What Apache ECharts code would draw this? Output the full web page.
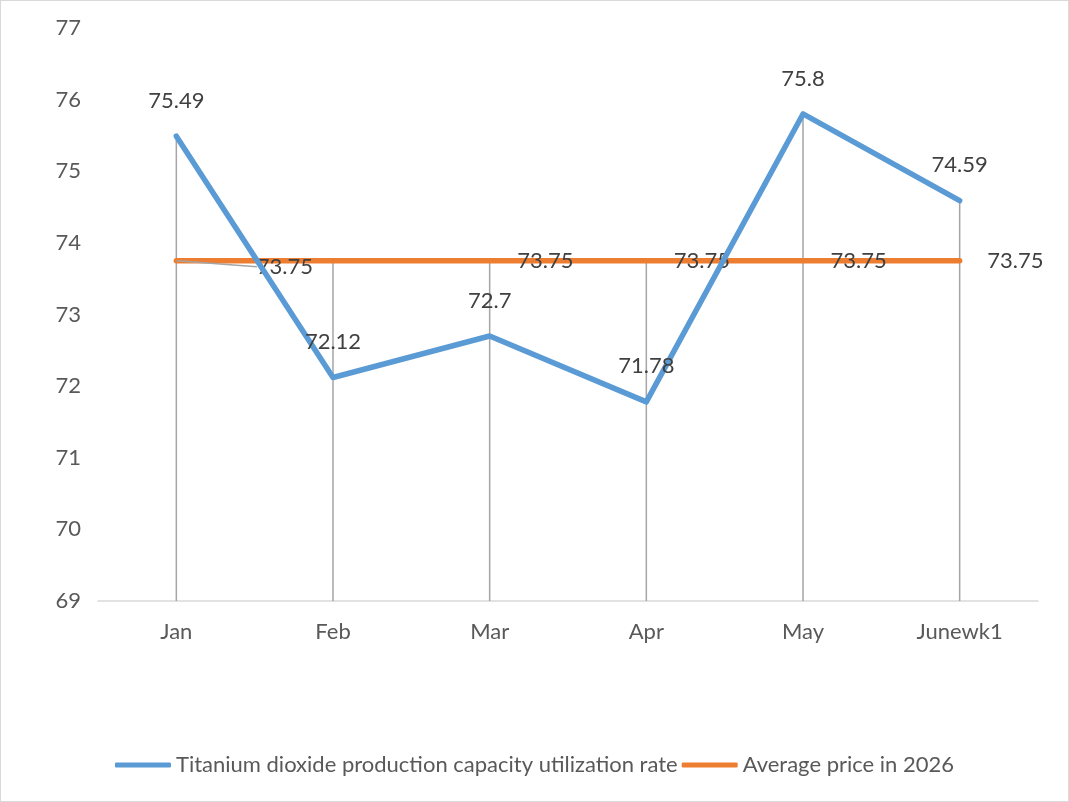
<!DOCTYPE html>
<html>
<head>
<meta charset="utf-8">
<script src="https://cdn.jsdelivr.net/npm/echarts@6/dist/echarts.min.js"></script>
<style>
html, body { margin: 0; padding: 0; background: #fff; }
#chart { width: 1067px; height: 800px; border: 1px solid #d9d9d9; }
</style>
</head>
<body>
<div id="chart"></div>
<script>
// 数据
var months = ['Jan', 'Feb', 'Mar', 'Apr', 'May', 'Junewk1'];
var utilRate = [75.49, 72.12, 72.7, 71.78, 75.8, 74.59];
var avgPrice = [73.75, 73.75, 73.75, 73.75, 73.75, 73.75];
var yTicks = [69, 70, 71, 72, 73, 74, 75, 76, 77];

var textColor = '#595959';
var fontName = 'Lato, "Liberation Sans", sans-serif';

// 垂线顶端 = 两条线在每个月的较大值
var dropTop = utilRate.map(function (v, i) { return Math.max(v, avgPrice[i]); });

var myChart = echarts.init(document.getElementById('chart'));

// 一月的标签被挪开并带引导线，二月的标签不显示
var avgData = avgPrice.map(function (v, i) {
    if (i === 0) {
        return { value: v, labelLine: { show: true, lineStyle: { color: '#a5a5a5', width: 1.5 } } };
    }
    if (i === 1) {
        return { value: v, label: { show: false } };
    }
    return v;
});

option = {
    backgroundColor: '#fff',
    textStyle: { fontFamily: fontName },
    grid: {
        left: 97,
        right: 30,
        top: 27,
        bottom: 200
    },
    legend: {
        bottom: 20,
        left: 'center',
        icon: 'roundRect',
        itemWidth: 56,
        itemHeight: 5,
        itemGap: 4,
        textStyle: { color: textColor, fontSize: 22, fontFamily: fontName },
        data: ['Titanium dioxide production capacity utilization rate', 'Average price in 2026']
    },
    xAxis: {
        type: 'category',
        data: months,
        axisTick: { show: false },
        axisLine: { lineStyle: { color: '#d9d9d9', width: 1.5 } },
        axisLabel: { color: textColor, fontSize: 22, margin: 20 }
    },
    yAxis: {
        type: 'value',
        min: yTicks[0],
        max: yTicks[yTicks.length - 1],
        interval: 1,
        splitLine: { show: false },
        axisLine: { show: false },
        axisTick: { show: false },
        axisLabel: { color: textColor, fontSize: 22, margin: 17 }
    },
    series: [
        {
            name: 'drop',
            type: 'custom',
            z: 1,
            silent: true,
            data: dropTop,
            renderItem: function (params, api) {
                var top = api.coord([api.value(0), api.value(1)]);
                var bottom = api.coord([api.value(0), yTicks[0]]);
                return {
                    type: 'line',
                    shape: { x1: top[0], y1: top[1], x2: bottom[0], y2: bottom[1] },
                    style: { stroke: '#a5a5a5', lineWidth: 1.5 }
                };
            }
        },
        {
            name: 'Average price in 2026',
            type: 'line',
            z: 3,
            data: avgData,
            symbol: 'circle',
            symbolSize: 1,
            color: '#ed7d31',
            lineStyle: { color: '#ed7d31', width: 5.5, cap: 'round' },
            label: {
                show: true,
                position: 'right',
                distance: 27,
                color: '#404040',
                fontSize: 22
            },
            labelLayout: function (params) {
                if (params.dataIndex === 0) {
                    return { dx: 53, dy: 6 };
                }
                return {};
            }
        },
        {
            name: 'Titanium dioxide production capacity utilization rate',
            type: 'line',
            z: 4,
            data: utilRate,
            symbol: 'circle',
            symbolSize: 1,
            color: '#5b9bd5',
            lineStyle: { color: '#5b9bd5', width: 5.5, cap: 'round', join: 'round' },
            label: {
                show: true,
                position: 'top',
                distance: 24,
                color: '#404040',
                fontSize: 22
            }
        }
    ]
};

myChart.setOption(option);
</script>
</body>
</html>
